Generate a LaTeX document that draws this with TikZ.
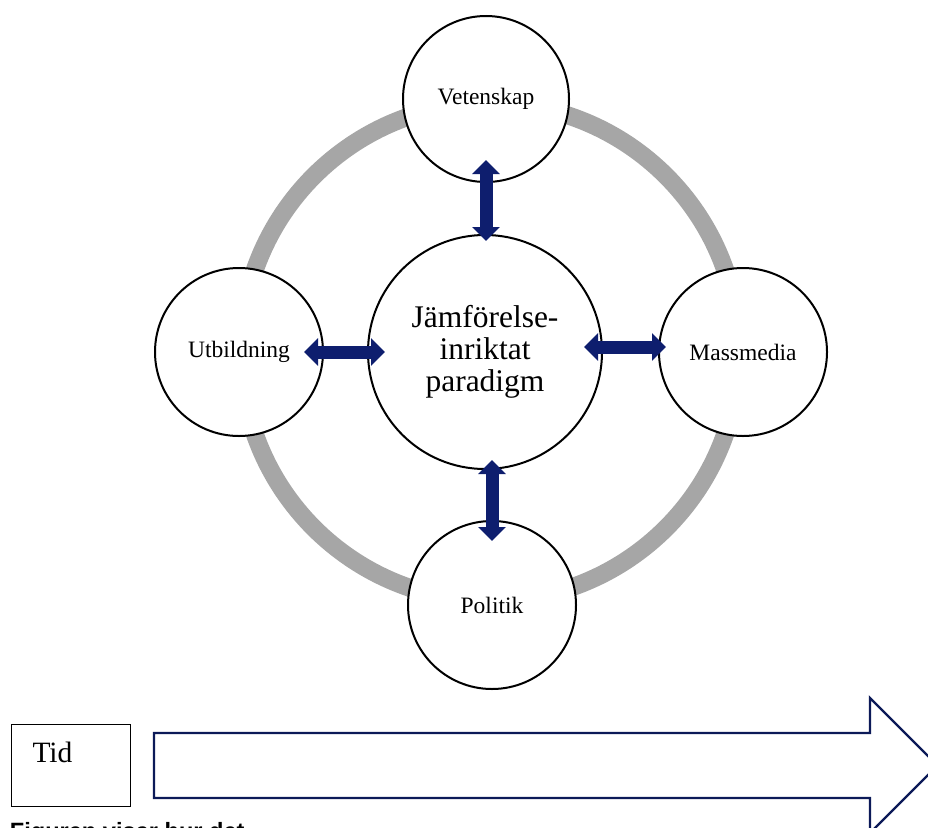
\documentclass[tikz,border=0pt]{standalone}
\usepackage{fontspec}
\setmainfont{Liberation Serif}
\setsansfont{Liberation Sans}
\usetikzlibrary{arrows.meta}
\definecolor{navy}{RGB}{14,30,110}
\definecolor{navyline}{RGB}{12,26,88}
\definecolor{ringgray}{RGB}{166,166,166}
\tikzset{
  bubble/.style={circle, draw=black, line width=2pt, fill=white, inner sep=0pt,
    font=\fontsize{23.5}{28}\selectfont},
  bigbubble/.style={bubble, font=\fontsize{31.5}{32}\selectfont, align=center},
  bar/.style={draw=navy, line width=13pt,
    {Triangle[width=27pt,length=14pt,fill=navy]}-{Triangle[width=27pt,length=14pt,fill=navy]}},
  tidbox/.style={draw=black, line width=1pt, anchor=north west, minimum height=82pt,
    text width=77pt, align=left, inner xsep=21pt, inner ysep=0pt, text depth=26pt,
    font=\fontsize{29.5}{32}\selectfont},
  timearrow/.style={draw=navyline, line width=2.3pt, fill=white, line join=miter},
  caption/.style={anchor=base west, inner sep=0pt,
    font=\sffamily\bfseries\fontsize{23.6}{28}\selectfont}
}
\begin{document}
\begin{tikzpicture}[x=1pt, y=-1pt]
\useasboundingbox (0,0) rectangle (928,827);
% gray ring
\draw[ringgray, line width=18pt] (490,352) circle[radius=249pt];
% circles
\node[bigbubble, minimum size=234pt] (par) at (485,352) {Jämförelse-\\inriktat\\paradigm};
\node[bubble, minimum size=166pt] (vet) at (486,99) {Vetenskap};
\node[bubble, minimum size=168pt] (utb) at (239,352) {Utbildning};
\node[bubble, minimum size=168pt] (mas) at (743,352) {Massmedia};
\node[bubble, minimum size=168pt] (pol) at (492,605) {Politik};
% double arrows
\draw[bar, shorten <=-23pt, shorten >=-7pt] (vet.south) -- (par.north -| vet.south);
\draw[bar, shorten <=-10pt, shorten >=-21pt] (par.south -| pol.north) -- (pol.north);
\draw[bar, shorten <=-20pt, shorten >=-18pt] (utb.east) -- (par.west);
\draw[bar, shorten <=-19pt, shorten >=-8pt] ([yshift=5pt]par.east) -- ([yshift=5pt]mas.west);
% time box and arrow
\node[tidbox] (tid) at (11,724) {Tid};
\draw[timearrow] (154,733) -- (870,733) -- (870,698) -- (937.5,765.5) -- (870,833)
  -- (870,798) -- (154,798) -- cycle;
% caption (cut off at the page edge)
\node[caption] (cap) at (-10,839) {1 Figuren visar hur det};
\end{tikzpicture}
\end{document}
